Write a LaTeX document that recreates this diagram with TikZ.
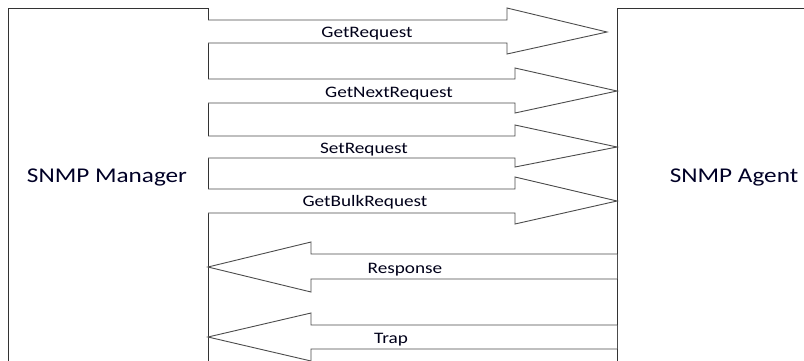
\documentclass[tikz,border=0pt]{standalone}
\usepackage{fontspec}
\setmainfont{Carlito}[FakeStretch=1.2]
\begin{document}
\begin{tikzpicture}[x=1pt,y=-1pt,
  boxline/.style={draw=black!80,line width=0.9pt},
  blockarrow/.style={draw=black!70,line width=0.9pt,fill=white,line join=miter},
  lbl/.style={font=\fontsize{16}{18}\selectfont,text=black!90!blue,inner sep=0pt,yshift=-1.5pt},
  boxlbl/.style={font=\fontsize{21}{24}\selectfont,text=black!85!blue,inner sep=0pt,yshift=-1pt}]
\useasboundingbox (0,0) rectangle (804,360);
\clip (0,0) rectangle (804,360);
\fill[white] (0,0) rectangle (804,360);
% boxes
\draw[boxline] (8,372) -- (8,8) coordinate (mtl) -- (208,8) coordinate (mtr) -- (208,372);
\draw[boxline] (617,372) -- (617,8) coordinate (atl) -- (815,8);
\node[boxlbl] (mgr) at (107,176) {SNMP Manager};
\node[boxlbl] (agt) at (734,176) {SNMP Agent};
% requests
\draw[blockarrow] (208,20)--(507,20)--(507,8)--(607,32)--(507,54)--(507,43)--(208,43);
\node[lbl] (getreq) at (367,32) {GetRequest};
\draw[blockarrow] (208,79)--(515,79)--(515,68)--(617,91)--(515,113)--(515,103)--(208,103);
\node[lbl] (getnext) at (389,92) {GetNextRequest};
\draw[blockarrow] (208,136)--(515,136)--(515,125)--(617,147)--(515,167)--(515,158)--(208,158);
\node[lbl] (setreq) at (364,148) {SetRequest};
\draw[blockarrow] (208,189)--(515,189)--(515,177)--(617,201)--(515,224)--(515,213)--(208,213);
\node[lbl] (getbulk) at (365,201) {GetBulkRequest};
% responses
\draw[blockarrow] (617,254)--(311,254)--(311,242)--(208,267)--(311,292)--(311,279)--(617,279);
\node[lbl] (resp) at (405,268) {Response};
\draw[blockarrow] (617,325)--(311,325)--(311,313)--(208,337)--(311,361)--(311,349)--(617,349);
\node[lbl] (trap) at (391,338) {Trap};
\end{tikzpicture}
\end{document}
